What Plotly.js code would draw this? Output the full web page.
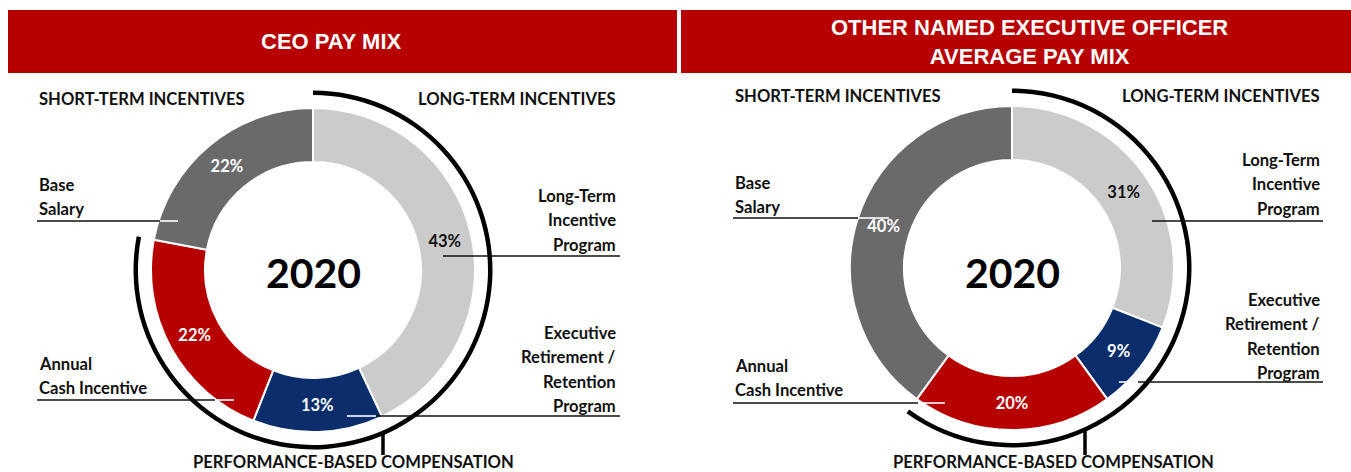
<!DOCTYPE html>
<html>
<head>
<meta charset="utf-8">
<script src="https://cdn.plot.ly/plotly-3.0.1.min.js"></script>
<style>
  html, body { margin: 0; padding: 0; background: #fff; }
  #chart { width: 1351px; height: 472px; }
</style>
</head>
<body>
<div id="chart"></div>
<script>
// pay mix data (percent of total pay), clockwise from 12 o'clock
var categories = ['Long-Term Incentive Program', 'Executive Retirement / Retention Program',
                  'Annual Cash Incentive', 'Base Salary'];
var ceoMix = [43, 13, 22, 22];
var neoMix = [31, 9, 20, 40];
var performanceBased = [true, true, true, false];
var sliceColors = ['#cbcbcb', '#0b2d6b', '#b70000', '#6a6a6a'];
var pctColors = ['#111111', '#ffffff', '#ffffff', '#ffffff'];
var panelTitles = ['CEO PAY MIX', 'OTHER NAMED EXECUTIVE OFFICER<br>AVERAGE PAY MIX'];
var centerLabel = '2020';

var W = 1351, H = 472;
var FONT = 'Lato, "Open Sans", sans-serif';
var RED = '#b70000';

function px(x) { return x / W; }
function py(y) { return 1 - y / H; }

function donut(vals, cx, cy) {
  var r = 162;
  return {
    type: 'pie',
    values: vals,
    labels: categories,
    sort: false,
    direction: 'clockwise',
    rotation: 0,
    hole: 108 / 162,
    domain: { x: [px(cx - r), px(cx + r)], y: [py(cy + r), py(cy - r)] },
    marker: { colors: sliceColors, line: { color: '#ffffff', width: 2 } },
    texttemplate: '<b>%{value}%</b>',
    textposition: 'inside',
    insidetextorientation: 'horizontal',
    textfont: { family: FONT, size: 16.5, color: pctColors },
    hoverinfo: 'skip',
    showlegend: false
  };
}

// thin black ring covering the performance-based slices
function perfArc(vals, cx, cy) {
  var perf = 0, rest = 0;
  vals.forEach(function (v, i) { if (performanceBased[i]) perf += v; else rest += v; });
  var r = 179.5;
  return {
    type: 'pie',
    values: [perf, rest],
    labels: ['Performance-based', 'Other'],
    sort: false,
    direction: 'clockwise',
    rotation: 0,
    hole: 175 / 179.5,
    domain: { x: [px(cx - r), px(cx + r)], y: [py(cy + r), py(cy - r)] },
    marker: { colors: ['#000000', 'rgba(0,0,0,0)'], line: { width: 0 } },
    textinfo: 'none',
    hoverinfo: 'skip',
    showlegend: false
  };
}

var annotations = [];
var shapes = [];

function text(str, x, y, anchor, size, color, family) {
  annotations.push({
    text: str, x: px(x), y: py(y), xref: 'paper', yref: 'paper',
    xanchor: anchor, yanchor: 'middle', showarrow: false,
    font: { family: family || FONT, size: size || 16.6, color: color || '#111111', weight: 700 }
  });
}
function block(lines, x, y0, anchor) {
  lines.forEach(function (l, i) { text(l, x, y0 + i * 24.3, anchor); });
}
function line(x0, y0, x1, y1, color, w) {
  shapes.push({ type: 'line', xref: 'paper', yref: 'paper',
    x0: px(x0), y0: py(y0), x1: px(x1), y1: py(y1),
    line: { color: color, width: w } });
}
function leader(y, xb0, xb1, xw0, xw1) {
  line(xb0, y, xb1, y, '#111111', 1.6);
  if (xw0 !== undefined) line(xw0, y, xw1, y, '#ffffff', 1.6);
}

// header bars
shapes.push({ type: 'rect', xref: 'paper', yref: 'paper', x0: px(8), x1: px(677), y0: py(73), y1: py(10),
  fillcolor: RED, line: { width: 0 } });
shapes.push({ type: 'rect', xref: 'paper', yref: 'paper', x0: px(681), x1: px(1351), y0: py(73), y1: py(10),
  fillcolor: RED, line: { width: 0 } });
annotations.push({ text: panelTitles[0], x: px(331), y: py(42), xref: 'paper', yref: 'paper',
  xanchor: 'center', yanchor: 'middle', showarrow: false,
  font: { family: 'Liberation Sans, Arial, sans-serif', size: 22, color: '#ffffff', weight: 700 } });
annotations.push({ text: panelTitles[1], x: px(1029), y: py(42), xref: 'paper', yref: 'paper',
  xanchor: 'center', yanchor: 'middle', showarrow: false,
  font: { family: 'Liberation Sans, Arial, sans-serif', size: 22, color: '#ffffff', weight: 700 } });

// left panel (CEO)
text('SHORT-TERM INCENTIVES', 37, 99, 'left');
text('LONG-TERM INCENTIVES', 618, 99, 'right');
block(['Base', 'Salary'], 37, 185, 'left');
block(['Long-Term', 'Incentive', 'Program'], 618, 196, 'right');
block(['Executive', 'Retirement /', 'Retention', 'Program'], 618, 333, 'right');
block(['Annual', 'Cash Incentive'], 37, 364, 'left');
text('PERFORMANCE-BASED COMPENSATION', 353, 462, 'center');
text(centerLabel, 313, 272, 'center', 41, '#000000');
leader(221, 37, 160, 160, 178);
leader(256, 443, 620);
leader(416, 376, 620, 347, 376);
leader(400, 37, 215, 215, 234);
line(383, 432, 383, 455, '#000000', 3.5);

// right panel (other NEOs)
text('SHORT-TERM INCENTIVES', 733, 96, 'left');
text('LONG-TERM INCENTIVES', 1322, 96, 'right');
block(['Base', 'Salary'], 733, 183, 'left');
block(['Long-Term', 'Incentive', 'Program'], 1322, 160, 'right');
block(['Executive', 'Retirement /', 'Retention', 'Program'], 1322, 300, 'right');
block(['Annual', 'Cash Incentive'], 733, 366, 'left');
text('PERFORMANCE-BASED COMPENSATION', 1053, 462, 'center');
text(centerLabel, 1012, 272, 'center', 41, '#000000');
leader(218, 733, 858, 858, 889);
leader(221, 1152, 1323);
leader(382, 1138, 1323, 1119, 1138);
leader(403, 733, 918, 918, 945);
line(1085, 429, 1085, 455, '#000000', 3.5);

var data = [
  perfArc(ceoMix, 313, 270), donut(ceoMix, 313, 270),
  perfArc(neoMix, 1012, 268), donut(neoMix, 1012, 268)
];

var layout = {
  width: W, height: H,
  margin: { l: 0, r: 0, t: 0, b: 0 },
  paper_bgcolor: '#ffffff',
  plot_bgcolor: '#ffffff',
  showlegend: false,
  annotations: annotations,
  shapes: shapes
};

Plotly.newPlot('chart', data, layout, { staticPlot: true, displayModeBar: false });
</script>
</body>
</html>
